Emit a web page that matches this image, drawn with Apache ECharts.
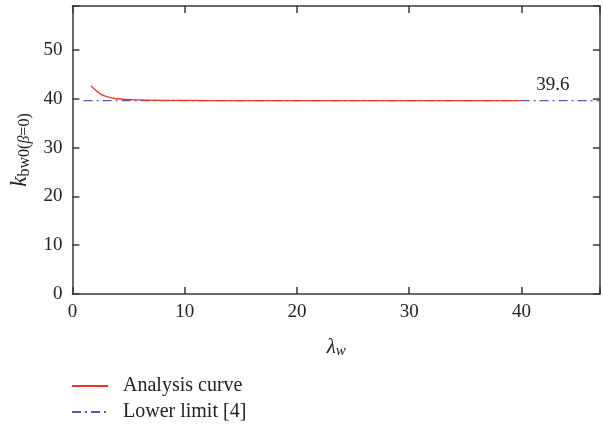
<!DOCTYPE html>
<html>
<head>
<meta charset="utf-8">
<script src="https://cdn.jsdelivr.net/npm/echarts@6/dist/echarts.min.js"></script>
<style>
  html, body { margin: 0; padding: 0; background: #fff; }
  #chart { width: 603px; height: 425px; }
</style>
</head>
<body>
<div id="chart"></div>
<script>
// Buckling coefficient k_bw0 (β = 0) against slenderness λw
const analysisLambda = [1.66, 2.0, 2.5, 3.0, 3.5, 4.0, 5.0, 6.0, 8.0, 10, 15, 20, 30, 40];
const analysisK      = [42.7, 41.9, 41.0, 40.5, 40.2, 40.0, 39.85, 39.75, 39.68, 39.65, 39.62, 39.61, 39.6, 39.6];
const limitLambda = [1.0, 47];
const limitK      = [39.6, 39.6];
const limitValue  = 39.6;
const xTicks = [0, 10, 20, 30, 40];
const yTicks = [0, 10, 20, 30, 40, 50];

const FONT = '"Liberation Serif", "DejaVu Serif", serif';
const AXIS = '#3a3a3a';
const RED = '#e8392b';
const BLUE = '#5b5ba8';

const pairs = (xs, ys) => xs.map((x, i) => [x, ys[i]]);

const chart = echarts.init(document.getElementById('chart'), null, { renderer: 'canvas' });

const axisCommon = {
  axisLine: { show: true, onZero: false, lineStyle: { color: AXIS, width: 1.5 } },
  axisTick: { show: true, inside: true, length: 7, lineStyle: { color: AXIS, width: 1.5 } },
  splitLine: { show: false },
  axisLabel: { color: '#222', fontFamily: FONT, fontSize: 19 }
};

// one legend block per row, line-only icons
const legendRow = (name, top) => ({
  orient: 'vertical', left: 66, top,
  itemWidth: 36, itemHeight: 10,
  itemStyle: { opacity: 0 },
  textStyle: { fontFamily: FONT, fontSize: 20, color: '#222', padding: [0, 0, 0, 10] },
  data: [name]
});

chart.setOption({
  animation: false,
  grid: { left: 72, right: 2, top: 6, bottom: 131, containLabel: false },
  xAxis: [{
    type: 'value', min: 0, max: 47, interval: 10,
    ...axisCommon,
    axisLabel: { ...axisCommon.axisLabel, margin: 9,
      formatter: v => xTicks.includes(v) ? String(v) : '' },
    name: '{l|λ}{s|w}', nameLocation: 'middle', nameGap: 41,
    nameTextStyle: { rich: {
      l: { fontFamily: FONT, fontStyle: 'italic', fontSize: 21, color: '#222' },
      s: { fontFamily: FONT, fontStyle: 'italic', fontSize: 15, color: '#222', verticalAlign: 'bottom', padding: [9, 0, 0, 0] }
    } }
  }, {
    type: 'value', position: 'top', min: 0, max: 47, interval: 10,
    ...axisCommon, axisLabel: { show: false }
  }],
  yAxis: [{
    type: 'value', min: 0, max: 59, interval: 10,
    ...axisCommon,
    axisLabel: { ...axisCommon.axisLabel, margin: 10,
      formatter: v => yTicks.includes(v) ? String(v) : '' },
    name: '{k|k}{s|bw0(}{b|β}{s|=0)}', nameLocation: 'middle', nameGap: 38, nameRotate: 90,
    nameTextStyle: { rich: {
      k: { fontFamily: FONT, fontStyle: 'italic', fontSize: 23, color: '#222' },
      s: { fontFamily: FONT, fontSize: 16, color: '#222', verticalAlign: 'bottom', padding: [10, 0, 0, 0] },
      b: { fontFamily: FONT, fontStyle: 'italic', fontSize: 16, color: '#222', verticalAlign: 'bottom', padding: [10, 0, 0, 0] }
    } }
  }, {
    type: 'value', position: 'right', min: 0, max: 59, interval: 10,
    ...axisCommon, axisLabel: { show: false }
  }],
  legend: [
    legendRow('Analysis curve', 371),
    legendRow('Lower limit [4]', 397)
  ],
  series: [{
    name: 'Lower limit [4]', type: 'line', showSymbol: false, symbol: 'none',
    data: pairs(limitLambda, limitK),
    lineStyle: { color: BLUE, width: 1.3, type: [9, 4, 2, 4] },
    itemStyle: { color: BLUE },
    z: 2,
    markPoint: {
      symbol: 'circle', symbolSize: 0,
      data: [{ coord: [42.8, limitValue], value: limitValue }],
      label: { show: true, position: 'top', distance: 6, formatter: p => p.value.toFixed(1),
        fontFamily: FONT, fontSize: 19, color: '#222' }
    }
  }, {
    name: 'Analysis curve', type: 'line', showSymbol: false, symbol: 'none', smooth: true,
    data: pairs(analysisLambda, analysisK),
    lineStyle: { color: RED, width: 1.3 },
    itemStyle: { color: RED },
    z: 3
  }]
});
</script>
</body>
</html>
